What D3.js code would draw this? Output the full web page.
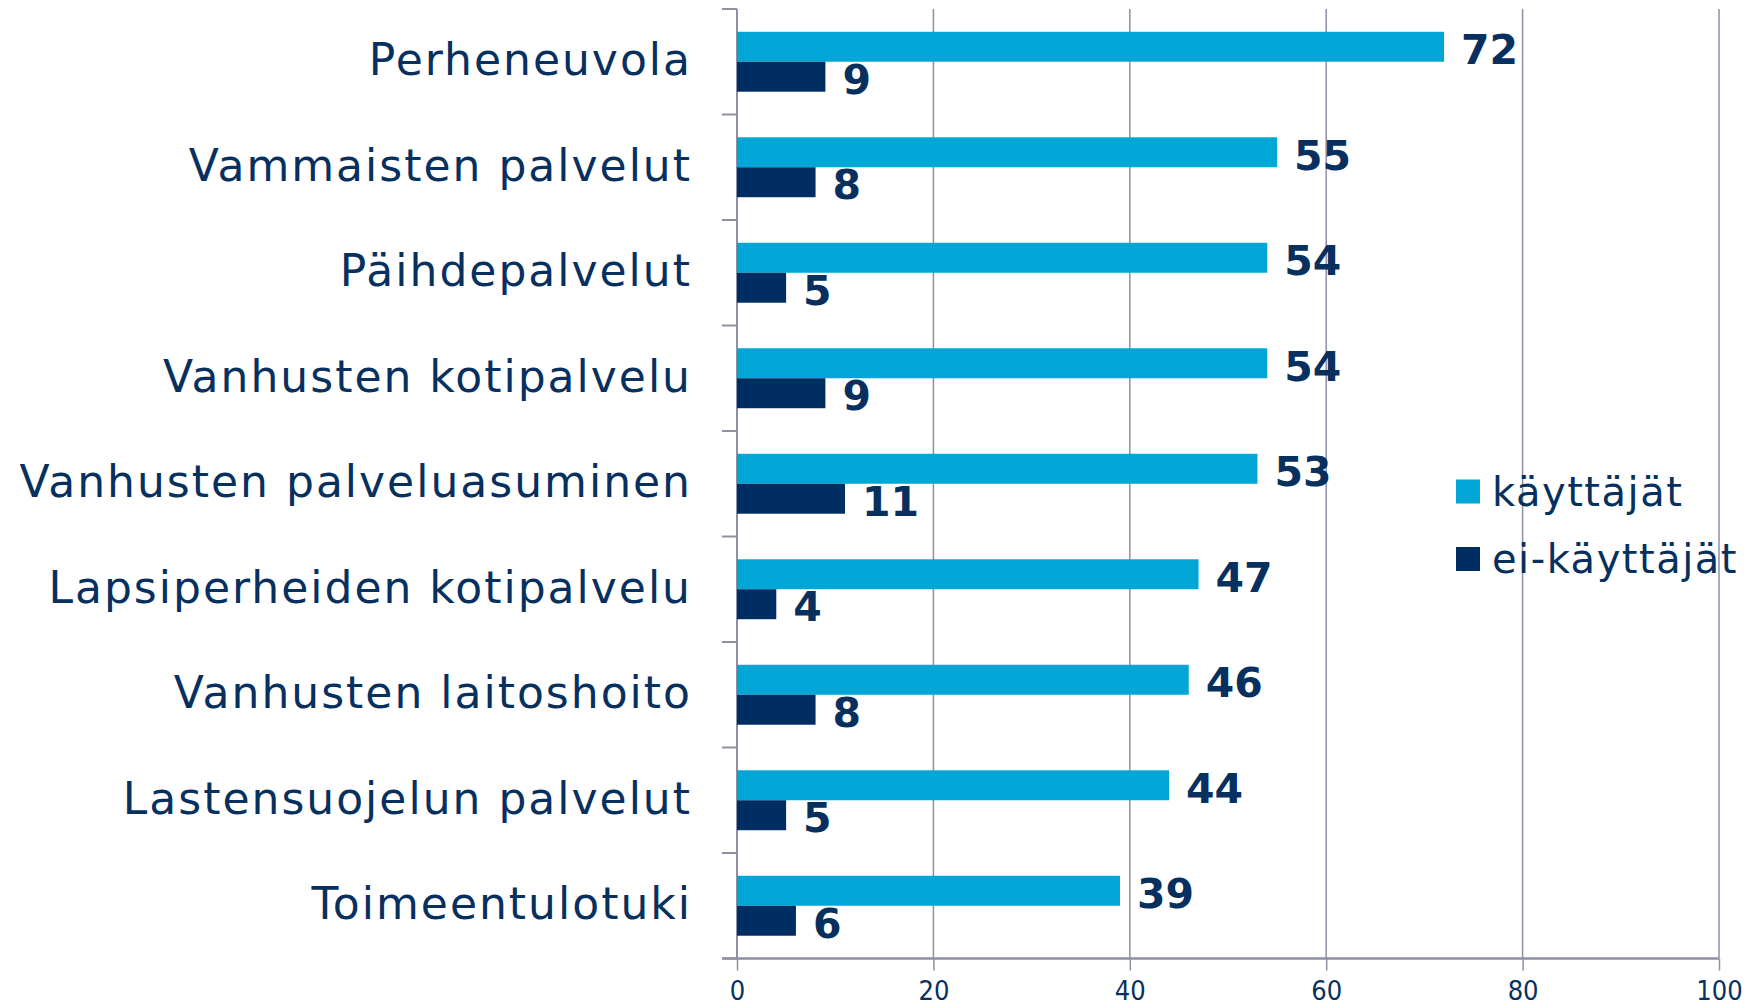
<!DOCTYPE html>
<html>
<head>
<meta charset="utf-8">
<script src="https://cdn.jsdelivr.net/npm/d3@7"></script>
<style>
  html, body { margin: 0; padding: 0; background: #fff; }
  svg { display: block; }
  text { font-family: "DejaVu Sans", Verdana, sans-serif; fill: #07305f; }
</style>
</head>
<body>
<div id="chart"></div>
<script>
// data
var categories = ['Perheneuvola', 'Vammaisten palvelut', 'Päihdepalvelut', 'Vanhusten kotipalvelu',
  'Vanhusten palveluasuminen', 'Lapsiperheiden kotipalvelu', 'Vanhusten laitoshoito',
  'Lastensuojelun palvelut', 'Toimeentulotuki'];
var kayttajat = [72, 55, 54, 54, 53, 47, 46, 44, 39];
var eiKayttajat = [9, 8, 5, 9, 11, 4, 8, 5, 6];
var seriesNames = ['käyttäjät', 'ei-käyttäjät'];
var xTicks = [0, 20, 40, 60, 80, 100];

var width = 1758, height = 1008;
var colors = ['#00a6d6', '#002d62'];
var gridColor = '#8e90a4';

var svg = d3.select('#chart').append('svg')
  .attr('width', width)
  .attr('height', height);

var x = d3.scaleLinear().domain([0, 100]).range([737, 1719]);
var y = d3.scaleBand().domain(categories).range([9, 958.5]);
var inner = d3.scaleBand().domain(seriesNames).range([0, y.bandwidth()])
  .paddingInner(0).paddingOuter(0.76);

// vertical gridlines
svg.append('g').selectAll('line')
  .data(xTicks.slice(1))
  .enter().append('line')
  .attr('x1', function(d) { return x(d); })
  .attr('x2', function(d) { return x(d); })
  .attr('y1', 9)
  .attr('y2', 958.5)
  .attr('stroke', gridColor)
  .attr('stroke-width', 1.5);

// bottom axis
var xAxis = svg.append('g')
  .attr('transform', 'translate(0,958.5)')
  .call(d3.axisBottom(x).tickValues(xTicks).tickSize(12).tickSizeOuter(0).tickPadding(10));
xAxis.select('.domain').remove();
xAxis.append('line').attr('x1', 722).attr('x2', 1719).attr('y1', 0).attr('y2', 0)
  .attr('stroke', gridColor).attr('stroke-width', 2.5);
xAxis.selectAll('.tick line').attr('stroke', gridColor).attr('stroke-width', 1.5);
xAxis.selectAll('.tick text')
  .attr('font-size', 27)
  .attr('fill', '#07305f')
  .style('font-family', '"DejaVu Sans Condensed", "DejaVu Sans", sans-serif');

// left axis with ticks between categories
var bounds = categories.map(function(c) { return y(c); }).concat([y.range()[1]]);
svg.append('line')
  .attr('x1', 737).attr('x2', 737)
  .attr('y1', 9).attr('y2', 958.5)
  .attr('stroke', gridColor).attr('stroke-width', 2);
svg.append('g').selectAll('line')
  .data(bounds)
  .enter().append('line')
  .attr('x1', 722).attr('x2', 737)
  .attr('y1', function(d) { return d; })
  .attr('y2', function(d) { return d; })
  .attr('stroke', gridColor).attr('stroke-width', 2);

// category labels
svg.append('g').selectAll('text')
  .data(categories)
  .enter().append('text')
  .attr('x', 692)
  .attr('y', function(d) { return y(d) + y.bandwidth() / 2 - 2.5; })
  .attr('dy', '0.36em')
  .attr('text-anchor', 'end')
  .attr('font-size', 44)
  .attr('letter-spacing', 2)
  .text(function(d) { return d; });

// bars
var rows = categories.map(function(c, i) {
  return { cat: c, values: [kayttajat[i], eiKayttajat[i]] };
});
var groups = svg.append('g').selectAll('g')
  .data(rows)
  .enter().append('g')
  .attr('transform', function(d) { return 'translate(0,' + y(d.cat) + ')'; });

groups.selectAll('rect')
  .data(function(d) { return d.values.map(function(v, j) { return { v: v, s: seriesNames[j], j: j }; }); })
  .enter().append('rect')
  .attr('x', x(0))
  .attr('y', function(d) { return inner(d.s); })
  .attr('width', function(d) { return x(d.v) - x(0); })
  .attr('height', inner.bandwidth())
  .attr('fill', function(d) { return colors[d.j]; });

groups.selectAll('text')
  .data(function(d) { return d.values.map(function(v, j) { return { v: v, s: seriesNames[j], j: j }; }); })
  .enter().append('text')
  .attr('x', function(d) { return x(d.v) + 17; })
  .attr('y', function(d) { return inner(d.s) + inner.bandwidth() / 2 + 2.5; })
  .attr('dy', '0.36em')
  .attr('font-size', 41)
  .attr('font-weight', 'bold')
  .text(function(d) { return d.v; });

// legend
var legend = svg.append('g').selectAll('g')
  .data(seriesNames)
  .enter().append('g')
  .attr('transform', function(d, i) { return 'translate(1456,' + (491.5 + i * 67.5) + ')'; });
legend.append('rect')
  .attr('x', 0).attr('y', -12)
  .attr('width', 24).attr('height', 24)
  .attr('fill', function(d, i) { return colors[i]; });
legend.append('text')
  .attr('x', 36).attr('y', 0)
  .attr('dy', '0.36em')
  .attr('font-size', 40)
  .attr('letter-spacing', 1.5)
  .text(function(d) { return d; });
</script>
</body>
</html>
